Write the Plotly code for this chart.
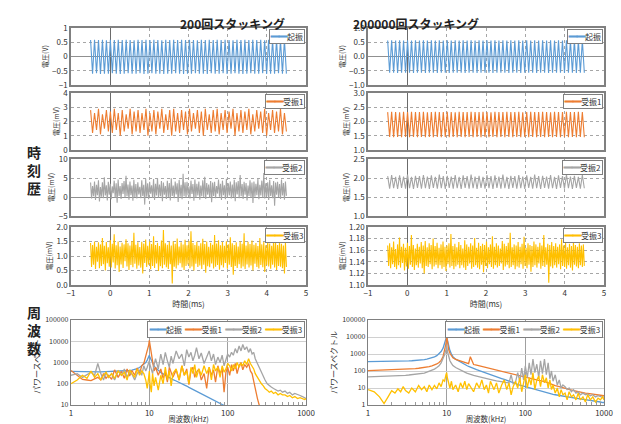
import numpy as np
import plotly.graph_objects as go

# ---------------- data ----------------
series_names = ["起振", "受振1", "受振2", "受振3"]
series_colors = ["#5B9BD5", "#ED7D31", "#A5A5A5", "#FFC000"]
panel_titles = ["200回スタッキング", "200000回スタッキング"]
t_start, t_end = -0.5, 4.5   # ms, recorded window

# --- time histories, 200 stacks ---
exc_200 = [
 0.58,-0.60,0.59,-0.59,0.58,-0.61,0.59,-0.60,0.57,-0.60,
 0.59,-0.59,0.58,-0.60,0.59,-0.61,0.58,-0.60,0.59,-0.59,
 0.58,-0.60,0.57,-0.60,0.59,-0.59,0.58,-0.61,0.59,-0.60,
 0.58,-0.59,0.59,-0.60,0.58,-0.60,0.57,-0.61,0.59,-0.60,
 0.58,-0.60,0.59,-0.59,0.58,-0.60,0.59,-0.61,0.58,-0.60,
 0.59,-0.60,0.58,-0.59,0.57,-0.60,0.59,-0.60,0.58,-0.61,
 0.59,-0.59,0.58,-0.60,0.59,-0.60,0.58,-0.59,0.59,-0.61,
 0.58,-0.60,0.57,-0.59,0.59,-0.60,0.58,-0.61,0.59,-0.60,
 0.58,-0.59,0.59,-0.60,0.58,-0.60,0.59,-0.59,0.57,-0.61,
 0.59,-0.60,0.58,-0.60,0.59,-0.59,0.58,-0.60,0.59,-0.60]
rcv1_200 = [
 2.8,1.2,2.6,1.4,2.9,1.1,2.5,1.5,2.8,1.3,
 2.7,1.2,2.9,1.4,2.6,1.0,2.8,1.3,2.5,1.5,
 2.9,1.1,2.7,1.3,2.8,1.2,2.6,1.4,2.9,1.0,
 2.6,1.3,2.8,1.1,2.7,1.5,2.9,1.2,2.5,1.4,
 2.8,1.0,2.9,1.3,2.6,1.2,2.8,1.4,2.7,1.1,
 2.9,1.3,2.6,1.5,2.8,1.2,2.7,1.0,2.9,1.4,
 2.5,1.2,2.8,1.3,2.9,1.1,2.6,1.4,2.8,1.2,
 2.7,1.5,2.9,1.0,2.6,1.3,2.8,1.2,2.7,1.4,
 2.9,1.1,2.5,1.3,2.8,1.5,2.7,1.2,2.9,1.0,
 2.6,1.4,2.8,1.2,2.7,1.3,2.9,1.1,2.6,1.3]
rcv2_200 = [
 3.8,-0.4,2.9,0.2,4.1,-0.8,3.2,0.5,4.4,-1.2,
 2.6,0.1,3.9,-0.3,5.2,0.4,3.1,-0.9,4.0,0.6,
 3.5,-0.6,2.8,1.0,4.3,-0.2,3.6,-1.5,4.6,0.3,
 2.9,-0.5,3.7,0.8,4.2,-0.1,5.6,0.2,3.3,-0.7,
 4.1,0.5,3.0,-1.0,4.5,0.0,3.4,-0.4,3.9,0.7,
 2.7,-0.3,4.4,0.3,3.2,-2.0,4.8,0.1,3.6,-0.6,
 4.0,0.9,3.1,-0.2,4.7,-0.8,3.5,0.4,5.0,-0.1,
 3.3,0.2,4.2,-1.1,3.8,0.6,2.9,-0.5,4.3,0.0,
 3.7,-0.9,4.9,0.3,3.0,-0.3,4.1,0.7,3.6,-1.3,
 4.5,0.1,3.2,-0.6,6.1,0.2,3.9,-0.2,4.0,0.5,
 2.8,-0.4,4.3,0.8,3.4,-1.0,4.6,-0.1,3.5,0.4,
 4.1,-0.7,3.0,0.2,4.4,0.0,5.3,-0.5,3.7,0.6,
 3.3,-0.2,4.2,-1.4,3.8,0.3,4.0,-0.3,2.9,0.9,
 4.6,0.1,3.5,-0.8,4.3,0.5,3.1,-0.6,4.8,-0.1,
 3.6,0.4,4.1,-0.4,3.3,0.0,4.5,-1.1,3.9,0.7,
 4.2,-0.3,5.8,0.2,3.4,-0.5,4.0,0.6,3.7,-0.9,
 3.0,0.3,4.4,-0.2,3.8,-1.6,4.1,0.1,3.5,0.5,
 4.7,-0.6,3.2,0.4,4.3,-0.1,6.3,-0.4,3.6,0.2,
 3.9,-0.8,4.5,0.3,3.1,-0.3,4.2,-2.3,3.8,0.6,
 4.0,0.0,3.4,-0.5,4.6,0.4,3.7,-0.7,4.1,0.3]
rcv3_200 = [
 1.45,0.62,1.38,0.70,1.50,0.55,1.32,0.80,1.47,0.58,
 1.40,0.66,1.62,0.72,1.35,0.50,1.48,0.75,1.30,0.63,
 1.55,0.60,1.42,0.78,1.75,0.57,1.37,0.68,1.50,0.45,
 1.33,0.71,1.46,0.59,1.40,0.82,1.58,0.64,1.44,0.52,
 1.36,0.69,1.52,0.61,1.80,0.73,1.39,0.56,1.47,0.67,
 1.31,0.60,1.49,0.40,1.43,0.76,1.57,0.62,1.35,0.70,
 1.50,0.54,1.41,0.66,1.68,0.59,1.38,0.74,1.46,0.48,
 1.34,0.65,1.53,0.58,1.90,0.70,1.44,0.61,1.39,0.55,
 1.48,0.72,1.36,0.05,1.51,0.63,1.42,0.57,1.60,0.68,
 1.33,0.75,1.47,0.60,1.40,0.52,1.56,0.66,1.37,0.71,
 1.52,0.58,1.85,0.64,1.45,0.50,1.38,0.73,1.49,0.62,
 1.35,0.67,1.44,0.55,1.59,0.70,1.41,0.42,1.50,0.65,
 1.32,0.61,1.46,0.74,1.39,0.57,1.72,0.63,1.43,0.69,
 1.54,0.53,1.37,0.68,1.48,0.60,1.35,0.76,1.51,0.56,
 1.40,0.70,1.65,0.62,1.44,0.35,1.38,0.66,1.47,0.59,
 1.33,0.72,1.50,0.58,1.42,0.64,1.78,0.55,1.36,0.71,
 1.49,0.60,1.41,0.67,1.53,0.50,1.39,0.73,1.45,0.62,
 1.34,0.57,1.62,0.69,1.40,0.61,1.48,0.45,1.37,0.68,
 1.52,0.64,1.43,0.56,1.35,0.70,1.58,0.60,1.46,0.52,
 1.38,0.66,1.50,0.63,1.42,0.58,1.36,0.40,1.48,0.62]

# --- time histories, 200000 stacks ---
exc_2e5 = [
 0.56,-0.57,0.57,-0.57,0.56,-0.58,0.57,-0.57,0.56,-0.57,
 0.57,-0.57,0.56,-0.58,0.57,-0.57,0.56,-0.57,0.57,-0.58,
 0.56,-0.57,0.57,-0.57,0.56,-0.58,0.57,-0.57,0.56,-0.57,
 0.57,-0.58,0.56,-0.57,0.57,-0.57,0.56,-0.57,0.57,-0.58,
 0.56,-0.57,0.57,-0.57,0.56,-0.58,0.57,-0.57,0.56,-0.57,
 0.57,-0.57,0.56,-0.58,0.57,-0.57,0.56,-0.57,0.57,-0.57,
 0.56,-0.58,0.57,-0.57,0.56,-0.57,0.57,-0.58,0.56,-0.57,
 0.57,-0.57,0.56,-0.57,0.57,-0.58,0.56,-0.57,0.57,-0.57,
 0.56,-0.58,0.57,-0.57,0.56,-0.57,0.57,-0.57,0.56,-0.58,
 0.57,-0.57,0.56,-0.57,0.57,-0.58,0.56,-0.57,0.57,-0.57]
rcv1_2e5 = [
 2.33,1.46,2.34,1.45,2.33,1.46,2.32,1.45,2.34,1.46,
 2.33,1.45,2.34,1.46,2.33,1.45,2.33,1.46,2.34,1.45,
 2.32,1.46,2.33,1.45,2.34,1.46,2.33,1.45,2.33,1.46,
 2.34,1.45,2.33,1.46,2.32,1.45,2.34,1.46,2.33,1.45,
 2.33,1.46,2.34,1.45,2.33,1.46,2.33,1.45,2.34,1.46,
 2.33,1.45,2.32,1.46,2.34,1.45,2.33,1.46,2.33,1.45,
 2.34,1.46,2.33,1.45,2.33,1.46,2.34,1.45,2.32,1.46,
 2.33,1.45,2.34,1.46,2.33,1.45,2.33,1.46,2.34,1.45,
 2.33,1.46,2.32,1.45,2.34,1.46,2.33,1.45,2.33,1.46,
 2.34,1.45,2.33,1.46,2.33,1.45,2.34,1.46,2.33,1.45]
rcv2_2e5 = [
 2.05,1.72,2.08,1.73,2.03,1.71,2.07,1.74,2.04,1.72,
 2.09,1.73,2.03,1.71,2.06,1.74,2.05,1.72,2.08,1.73,
 2.04,1.71,2.07,1.74,2.03,1.72,2.09,1.73,2.05,1.71,
 2.06,1.74,2.04,1.72,2.08,1.73,2.03,1.71,2.07,1.74,
 2.05,1.72,2.09,1.73,2.04,1.71,2.06,1.74,2.03,1.72,
 2.08,1.73,2.05,1.71,2.07,1.74,2.04,1.72,2.09,1.73,
 2.03,1.71,2.06,1.74,2.05,1.72,2.08,1.73,2.04,1.71,
 2.07,1.74,2.03,1.72,2.09,1.73,2.05,1.71,2.06,1.74,
 2.04,1.72,2.08,1.73,2.03,1.71,2.07,1.74,2.05,1.72,
 2.09,1.73,2.04,1.71,2.06,1.74,2.03,1.72,2.08,1.73]
rcv3_2e5 = [
 1.168,1.133,1.172,1.129,1.165,1.136,1.175,1.131,1.162,1.127,
 1.170,1.134,1.182,1.130,1.166,1.138,1.171,1.125,1.164,1.132,
 1.173,1.128,1.167,1.135,1.186,1.131,1.169,1.126,1.163,1.134,
 1.171,1.130,1.166,1.137,1.174,1.129,1.168,1.120,1.176,1.133,
 1.165,1.131,1.172,1.136,1.169,1.127,1.180,1.132,1.167,1.135,
 1.173,1.129,1.164,1.134,1.170,1.128,1.175,1.131,1.166,1.124,
 1.168,1.136,1.172,1.130,1.188,1.133,1.167,1.127,1.171,1.132,
 1.165,1.135,1.174,1.129,1.169,1.134,1.163,1.130,1.177,1.126,
 1.170,1.133,1.166,1.137,1.172,1.128,1.168,1.131,1.181,1.134,
 1.164,1.130,1.173,1.127,1.167,1.135,1.171,1.122,1.169,1.133,
 1.175,1.129,1.165,1.136,1.170,1.131,1.184,1.128,1.166,1.134,
 1.172,1.130,1.168,1.133,1.163,1.137,1.176,1.126,1.171,1.132,
 1.167,1.135,1.173,1.129,1.190,1.131,1.165,1.134,1.170,1.127,
 1.168,1.132,1.174,1.130,1.166,1.136,1.171,1.128,1.183,1.133,
 1.164,1.129,1.172,1.135,1.169,1.123,1.167,1.131,1.175,1.134,
 1.170,1.130,1.166,1.137,1.173,1.128,1.168,1.133,1.186,1.131,
 1.165,1.135,1.171,1.104,1.169,1.132,1.174,1.129,1.167,1.134,
 1.172,1.130,1.166,1.136,1.170,1.127,1.179,1.133,1.168,1.131,
 1.173,1.128,1.165,1.134,1.171,1.130,1.167,1.125,1.174,1.135,
 1.169,1.132,1.166,1.129,1.172,1.134,1.168,1.131,1.170,1.133]

# --- power spectra (frequency in kHz) ---
freq_khz = [
 1,1.2,1.4,1.6,1.8,2,2.2,2.4,2.6,2.8,3,
 3.3,3.6,4,4.4,4.8,5.2,5.6,6,
 6.5,7,7.5,8,8.5,9,
 9.4,9.8,10,10.2,10.6,11,11.5,12,
 13,14,15,16,17,18,19,20,
 22,24,26,28,30,32,34,36,38,40,
 43,46,50,54,58,62,66,70,
 75,80,85,90,95,100,
 106,112,118,125,132,140,148,156,165,175,185,195,
 205,215,225,240,255,270,285,300,
 320,340,360,385,410,440,470,500,
 540,580,620,670,720,780,840,900,960,1000]

spec_200_exc = [
 380,370,365,360,360,360,362,365,368,370,372,
 375,380,385,390,400,410,420,440,
 470,520,580,680,800,1000,
 1300,1700,2200,1700,1200,900,700,560,
 420,340,290,250,220,195,175,155,
 135,118,100,88,78,68,60,54,48,43,
 37,32,27,23,20,17,15,13.5,
 12,10.5,9.5,8.5,7.6,7,
 6.2,5.6,5,4.5,4,3.6,3.2,2.9,2.6,2.3,2,1.8,
 1.6,1.5,1.4,1.2,1.1,1,0.9,0.8,
 0.7,0.6,0.55,0.5,0.45,0.4,0.35,0.3,
 0.28,0.25,0.22,0.2,0.18,0.16,0.14,0.12,0.11,0.1]
spec_200_r1 = [
 420,250,160,150,140,170,200,150,300,180,250,
 160,450,200,380,180,500,230,420,
 250,550,300,700,900,1800,
 3500,6500,11000,7000,2500,1000,400,600,
 250,500,180,350,120,600,300,200,
 450,150,700,250,500,90,400,600,200,350,
 500,150,300,60,600,250,450,120,
 700,300,500,40,350,600,
 250,800,400,900,300,700,1000,450,800,600,900,400,
 300,150,60,20,8,4,2,1,
 1,1,1,1,1,1,1,1,
 1,1,1,1,1,1,1,1,1,1]
spec_200_r2 = [
 250,300,200,280,350,250,900,300,150,350,200,
 300,150,400,250,500,200,350,280,
 150,300,450,250,700,400,
 600,900,1200,800,500,300,800,1500,
 500,2500,800,3000,1200,600,2000,900,
 3500,1500,2500,700,4000,1800,3000,1200,2200,5000,
 1500,2800,900,2000,3500,1200,2500,800,
 1800,1000,2200,700,1500,2500,
 1800,3000,2200,4500,2800,6000,3500,7000,4000,5500,3000,4500,
 2500,3000,1500,900,500,300,200,150,
 100,80,70,60,50,45,50,40,
 45,35,40,30,35,30,28,25,22,20]
spec_200_r3 = [
 100,150,250,180,400,200,300,150,250,350,200,
 300,180,400,250,350,150,450,300,
 200,500,250,400,300,150,
 60,200,400,100,40,300,80,200,
 50,250,100,600,150,400,80,300,
 500,150,700,250,400,100,600,300,800,200,
 500,250,700,300,600,150,800,400,
 600,200,700,350,500,900,
 700,400,800,500,1000,600,900,700,1200,800,1500,900,
 700,500,300,200,150,100,80,60,
 50,40,45,35,40,30,35,30,
 30,25,28,22,25,20,22,20,18,20]

spec_2e5_exc = [
 360,360,365,365,370,370,372,375,378,380,382,
 390,400,410,425,445,470,500,540,
 600,680,800,1000,1400,2200,
 4000,8000,11000,7000,3000,1600,1000,700,
 500,400,330,280,240,210,185,165,
 140,120,105,92,82,73,66,60,55,50,
 45,40,36,32,28,25,22,20,
 18,16.5,15,14,13,12,
 11,10,9.5,9,8.5,8,7.5,7,6.5,6,5.5,5,
 4.8,4.5,4.2,4,3.8,3.6,3.4,3.2,
 3,2.9,2.8,2.7,2.6,2.5,2.4,2.3,
 2.2,2.1,2,1.9,1.8,1.7,1.6,1.5,1.4,1.4]
spec_2e5_r1 = [
 105,108,110,112,114,115,117,118,120,122,124,
 128,132,138,145,152,160,170,180,
 200,225,260,320,420,700,
 1500,4000,12000,4500,1800,1100,800,600,
 480,420,380,340,310,290,270,700,
 240,220,200,185,170,160,150,140,130,120,
 112,104,96,88,80,74,68,62,
 58,54,50,47,45,42,
 40,38,36,34,32,30,28,27,26,24,22,20,
 18,17,15,14,13,12,11,10,
 9,8.5,8,7.5,7,6.5,6,5.5,
 5.2,5,4.8,4.6,4.4,4.2,4,3.8,3.6,3.5]
spec_2e5_r2 = [
 45,46,48,47,50,52,50,53,55,54,56,
 58,60,62,66,70,75,85,95,
 110,130,160,200,300,500,
 900,1800,3500,1500,700,400,280,210,
 160,130,110,95,85,75,68,62,
 55,50,45,41,38,35,33,31,29,28,
 26,24,23,22,21,20,60,18,
 22,80,25,150,30,200,
 40,300,60,500,80,250,40,400,70,500,60,300,
 35,100,25,60,15,30,10,15,
 12,8,10,6,8,5,6,4,
 5,4,4.5,3.5,4,3,3.5,3,2.8,3]
spec_2e5_r3 = [
 8,6,3,1.2,3,7,5,9,6,12,7,
 5,10,6,14,8,12,6,15,
 8,14,9,20,12,30,
 25,60,80,40,20,10,25,8,
 15,6,20,10,25,8,18,12,
 6,20,10,30,8,15,5,25,12,8,
 20,5,15,30,8,20,4,12,
 25,10,40,6,20,60,
 10,40,15,80,8,30,50,12,60,20,40,10,
 30,8,15,5,10,3,8,4,
 5,2,6,3,4,2,5,2,
 3,1.5,4,2,3,1.5,2.5,2,3,2]

# axis settings per time panel: (range, dtick, tickformat, unit)
left_axes = [([-1, 1], 0.5, "", "電圧(V)"), ([0, 4], 1, "", "電圧(mV)"),
             ([-5, 10], 5, "", "電圧(mV)"), ([0, 2], 0.5, ".1f", "電圧(mV)")]
right_axes = [([-1, 1], 0.5, ".1f", "電圧(V)"), ([1, 3], 0.5, ".1f", "電圧(mV)"),
              ([1, 2.5], 0.5, ".1f", "電圧(mV)"), ([1.10, 1.20], 0.02, ".2f", "電圧(mV)")]
log_minor = [2, 3, 4, 5, 6, 7, 8, 9, 20, 30, 40, 50, 60, 70, 80, 90,
             200, 300, 400, 500, 600, 700, 800, 900]

# ---------------- figure ----------------
W, H = 621, 424
FONT = "Noto Sans CJK JP"
GRID = "#a6a6a6"
FRAME = "#808080"
TXT = "#333"

def fx(p):
    return p / W

def fy(p):
    return 1 - p / H

def legend_text(idx_list, sep=" "):
    parts = []
    for i in idx_list:
        col = series_colors[i]
        parts.append('<span style="color:%s;stroke:%s;stroke-width:0.9px">━━</span>%s'
                     % (col, col, series_names[i]))
    return sep.join(parts)

col_dom = [[fx(71), fx(306)], [fx(368), fx(604)]]
row_px = [(28, 85), (93, 150), (159, 216), (227, 285)]
spec_px = (320, 405)

fig = go.Figure()
layout = {}
annotations = []

time_data = [[exc_200, rcv1_200, rcv2_200, rcv3_200],
             [exc_2e5, rcv1_2e5, rcv2_2e5, rcv3_2e5]]
axes_cfg = [left_axes, right_axes]

def suffix(n):
    return "" if n == 1 else str(n)

n = 0
for c in range(2):
    for r in range(4):
        n += 1
        vals = time_data[c][r]
        t = np.linspace(t_start, t_end, len(vals))
        fig.add_trace(go.Scatter(
            x=t, y=vals, mode="lines", name=series_names[r], showlegend=False,
            line=dict(color=series_colors[r], width=1.1),
            xaxis="x" + suffix(n), yaxis="y" + suffix(n)))
        rng, dt, fmt, unit = axes_cfg[c][r]
        bottom = (r == 3)
        layout["xaxis" + suffix(n)] = dict(
            domain=col_dom[c], anchor="y" + suffix(n), range=[-1, 5], automargin=False,
            tick0=0, dtick=1, showgrid=True, gridcolor=GRID, griddash="dot",
            zeroline=True, zerolinecolor="#6b6b6b", zerolinewidth=1.2,
            showline=True, mirror=True, linecolor=FRAME, linewidth=1.5,
            showticklabels=bottom, ticks="",
            tickfont=dict(size=8, color=TXT, family=FONT),
            title=dict(text="時間(ms)" if bottom else "",
                       font=dict(size=8, color=TXT, family=FONT), standoff=0))
        layout["yaxis" + suffix(n)] = dict(
            domain=[fy(row_px[r][1]), fy(row_px[r][0])], anchor="x" + suffix(n),
            range=rng, tick0=rng[0], dtick=dt, tickformat=fmt, automargin=False,
            showgrid=True, gridcolor=GRID, griddash="dot",
            zeroline=True, zerolinecolor="#909090", zerolinewidth=1,
            showline=True, mirror=True, linecolor=FRAME, linewidth=1.5, ticks="",
            tickfont=dict(size=8, color=TXT, family=FONT),
            title=dict(text=unit, font=dict(size=7, color=TXT, family=FONT), standoff=3))
        annotations.append(dict(
            text=legend_text([r]), x=col_dom[c][1] - fx(1), y=fy(row_px[r][0] + 1),
            xref="paper", yref="paper", xanchor="right", yanchor="top", showarrow=False,
            bgcolor="white", bordercolor="#7f7f7f", borderwidth=1, borderpad=1,
            font=dict(size=8, color=TXT, family=FONT)))

spec_data = [[spec_200_exc, spec_200_r1, spec_200_r2, spec_200_r3],
             [spec_2e5_exc, spec_2e5_r1, spec_2e5_r2, spec_2e5_r3]]
spec_yrange = [[1, 5], [0, 5]]
spec_yticks = [[10, 100, 1000, 10000, 100000], [1, 10, 100, 1000, 10000, 100000]]

for c in range(2):
    n += 1
    for s in range(4):
        fig.add_trace(go.Scatter(
            x=freq_khz, y=spec_data[c][s], mode="lines", name=series_names[s],
            showlegend=False, line=dict(color=series_colors[s], width=1.3),
            xaxis="x" + suffix(n), yaxis="y" + suffix(n)))
    layout["xaxis" + suffix(n)] = dict(
        domain=col_dom[c], anchor="y" + suffix(n), type="log", range=[0, 3], automargin=False,
        tickvals=[1, 10, 100, 1000], ticktext=["1", "10", "100", "1000"],
        showgrid=True, gridcolor="#a0a0a0", gridwidth=1,
        showline=True, mirror=True, linecolor=FRAME, linewidth=1.2, ticks="",
        minor=dict(ticks="inside", ticklen=3, tickcolor="#999", showgrid=False,
                   tickmode="array", tickvals=log_minor),
        tickfont=dict(size=8, color=TXT, family=FONT),
        title=dict(text="周波数(kHz)", font=dict(size=7.5, color=TXT, family=FONT), standoff=0))
    yt = spec_yticks[c]
    layout["yaxis" + suffix(n)] = dict(
        domain=[fy(spec_px[1]), fy(spec_px[0])], anchor="x" + suffix(n),
        type="log", range=spec_yrange[c], automargin=False,
        tickvals=yt, ticktext=[str(v) for v in yt],
        showgrid=True, gridcolor="#d0d0d0", gridwidth=1,
        showline=True, mirror=True, linecolor=FRAME, linewidth=1.2, ticks="",
        tickfont=dict(size=7, color=TXT, family=FONT),
        title=dict(text="パワースペクトル", font=dict(size=8, color=TXT, family=FONT), standoff=3))
    annotations.append(dict(
        text=legend_text([0, 1, 2, 3], sep="  "), x=col_dom[c][1] - fx(1), y=fy(spec_px[0] + 1),
        xref="paper", yref="paper", xanchor="right", yanchor="top", showarrow=False,
        bgcolor="white", bordercolor="#7f7f7f", borderwidth=1, borderpad=2,
        font=dict(size=8, color=TXT, family=FONT)))

annotations += [
    dict(text="<b>%s</b>" % panel_titles[0], x=fx(178), y=fy(13), xref="paper", yref="paper",
         showarrow=False, font=dict(size=12, color="#222", family=FONT)),
    dict(text="<b>%s</b>" % panel_titles[1], x=fx(481), y=fy(13), xref="paper", yref="paper",
         showarrow=False, font=dict(size=12, color="#222", family=FONT)),
    dict(text="<b>時<br>刻<br>歴</b>", x=fx(25), y=fy(170), xref="paper", yref="paper",
         showarrow=False, font=dict(size=14, color="#222", family=FONT)),
    dict(text="<b>周<br>波<br>数</b>", x=fx(25), y=fy(360), xref="paper", yref="paper",
         showarrow=False, font=dict(size=14, color="#222", family=FONT)),
]

fig.update_layout(**layout)
fig.update_layout(
    width=W, height=H, margin=dict(l=0, r=0, t=0, b=0, autoexpand=False),
    paper_bgcolor="white", plot_bgcolor="white",
    font=dict(family=FONT, color=TXT),
    annotations=annotations, showlegend=False)

fig.write_html("out.html", config={"displayModeBar": False},
               post_script="document.body.style.margin='0';document.body.style.overflow='hidden';")
